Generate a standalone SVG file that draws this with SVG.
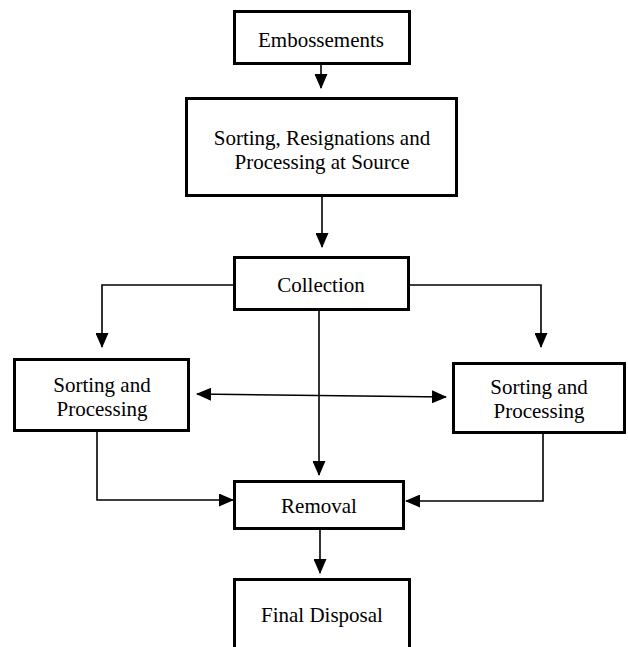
<svg xmlns="http://www.w3.org/2000/svg" width="628" height="647" viewBox="0 0 628 647">
<style>
.box{fill:#fff;stroke:#000;stroke-width:3}
.lbl{font-family:"Liberation Serif","Times New Roman",serif;font-size:21px;fill:#000;text-anchor:middle}
.con{fill:none;stroke:#000;stroke-width:1.6}
</style>
<defs>
<marker id="ah" markerUnits="userSpaceOnUse" markerWidth="15" markerHeight="13" refX="14" refY="6.5" orient="auto-start-reverse" viewBox="0 0 15 13">
<path d="M0,0 L15,6.5 L0,13 z" fill="#000"/>
</marker>
</defs>
<rect width="628" height="647" fill="#fff"/>
<g id="connectors">
<path class="con" d="M321,65 V88" marker-end="url(#ah)"/>
<path class="con" d="M322,197 V247" marker-end="url(#ah)"/>
<path class="con" d="M233,285 H102 V347" marker-end="url(#ah)"/>
<path class="con" d="M410,285 H541 V347" marker-end="url(#ah)"/>
<path class="con" d="M319,311 V475" marker-end="url(#ah)"/>
<path class="con" d="M197,394 L446,397" marker-start="url(#ah)" marker-end="url(#ah)"/>
<path class="con" d="M97,432 V500 H233" marker-end="url(#ah)"/>
<path class="con" d="M543,434 V501 H406" marker-end="url(#ah)"/>
<path class="con" d="M320,530 V573" marker-end="url(#ah)"/>
</g>
<g id="embossements">
<rect class="box" x="234.5" y="11.5" width="175" height="52"/>
<text class="lbl" x="321" y="47">Embossements</text>
</g>
<g id="sorting-source">
<rect class="box" x="186.5" y="98.5" width="270" height="97"/>
<text class="lbl" x="322" y="145">Sorting, Resignations and</text>
<text class="lbl" x="322" y="169">Processing at Source</text>
</g>
<g id="collection">
<rect class="box" x="234.5" y="257.5" width="174" height="52"/>
<text class="lbl" x="321" y="292">Collection</text>
</g>
<g id="sorting-left">
<rect class="box" x="14.5" y="359.5" width="174" height="71"/>
<text class="lbl" x="102" y="392">Sorting and</text>
<text class="lbl" x="102" y="416">Processing</text>
</g>
<g id="sorting-right">
<rect class="box" x="453.5" y="363.5" width="171" height="69"/>
<text class="lbl" x="539" y="394">Sorting and</text>
<text class="lbl" x="539" y="418">Processing</text>
</g>
<g id="removal">
<rect class="box" x="234.5" y="481.5" width="169" height="47"/>
<text class="lbl" x="319" y="513">Removal</text>
</g>
<g id="final-disposal">
<rect class="box" x="234.5" y="579.5" width="175" height="80"/>
<text class="lbl" x="322" y="622">Final Disposal</text>
</g>
</svg>
